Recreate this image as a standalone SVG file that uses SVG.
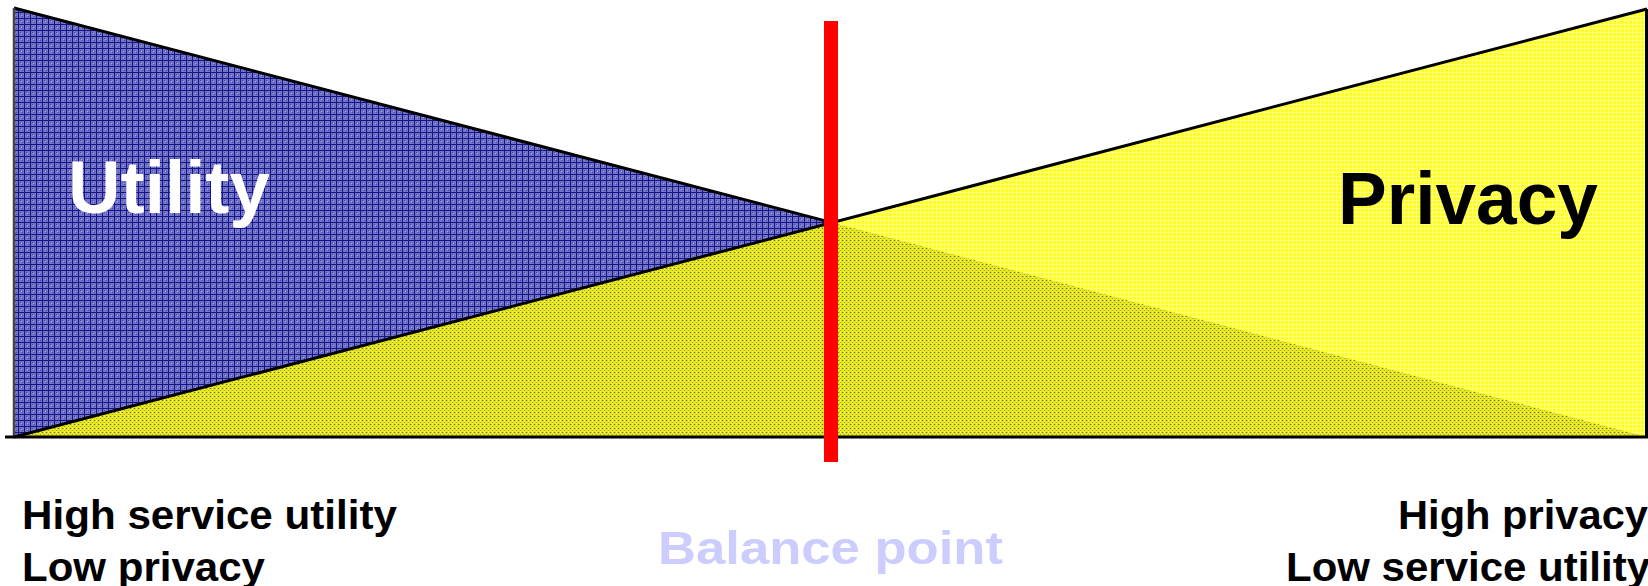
<svg xmlns="http://www.w3.org/2000/svg" width="1648" height="586" viewBox="0 0 1648 586">
  <style>
    .lbl { font-family: "Liberation Sans", Arial, sans-serif; font-weight: bold; }
    .edge { fill: none; stroke: #000; stroke-width: 3; stroke-linecap: butt; }
  </style>
  <defs>
    <pattern id="blueP" width="6" height="6" patternUnits="userSpaceOnUse">
      <rect width="6" height="6" fill="#7474c6"/>
      <rect x="2" y="2" width="1" height="1" fill="#4a4aa6"/>
      <rect x="4" y="4" width="1" height="1" fill="#4a4aa6"/>
      <rect x="3" y="3" width="1" height="1" fill="#a0a0e0"/>
      <rect x="0" y="0" width="6" height="1" fill="#14148a"/>
      <rect x="0" y="0" width="1" height="6" fill="#14148a"/>
    </pattern>
    <pattern id="yellowP" width="4" height="4" patternUnits="userSpaceOnUse">
      <rect width="4" height="4" fill="#ffff1a"/>
      <rect x="0" y="0" width="4" height="1" fill="#ffff90"/>
      <rect x="0" y="0" width="1" height="4" fill="#ffff90"/>
    </pattern>
    <pattern id="overlapP" width="4" height="4" patternUnits="userSpaceOnUse">
      <rect width="4" height="4" fill="#e6e610"/>
      <rect x="0" y="0" width="4" height="1" fill="#caca3a"/>
      <rect x="0" y="0" width="1" height="4" fill="#f4f450"/>
      <rect x="2" y="0" width="1" height="1" fill="#707058"/>
      <rect x="0" y="2" width="1" height="1" fill="#9a9a60"/>
    </pattern>
  </defs>

  <rect width="1648" height="586" fill="#ffffff"/>

  <g id="utility-area">
    <polygon points="14,8 1647,437 14,437" fill="url(#blueP)"/>
  </g>
  <g id="privacy-area">
    <polygon points="14,437 1647,9 1647,437" fill="url(#yellowP)"/>
  </g>
  <g id="overlap-area">
    <polygon points="14,437 832,222.6 1647,437" fill="url(#overlapP)"/>
  </g>

  <g id="connectors">
    <line class="edge" x1="14" y1="8" x2="832" y2="222.6"/>
    <line class="edge" x1="14" y1="437" x2="1647" y2="9"/>
    <line x1="14" y1="8" x2="14" y2="437" stroke="#444" stroke-width="2.5"/>
    <line class="edge" x1="1646.5" y1="9" x2="1646.5" y2="437"/>
    <line class="edge" x1="5" y1="437" x2="1648" y2="437"/>
  </g>

  <g id="balance-bar">
    <rect x="824" y="21" width="14" height="441" fill="#ff0000"/>
  </g>

  <g id="label-utility">
    <text class="lbl" x="68" y="213" font-size="74" fill="#ffffff" textLength="202" lengthAdjust="spacingAndGlyphs">Utility</text>
  </g>
  <g id="label-privacy">
    <text class="lbl" x="1338" y="224" font-size="74" fill="#000000" textLength="260" lengthAdjust="spacingAndGlyphs">Privacy</text>
  </g>
  <g id="label-left">
    <text class="lbl" x="22" y="529" font-size="41" fill="#000000" textLength="375" lengthAdjust="spacingAndGlyphs">High service utility</text>
    <text class="lbl" x="22" y="581" font-size="41" fill="#000000" textLength="243" lengthAdjust="spacingAndGlyphs">Low privacy</text>
  </g>
  <g id="label-balance">
    <text class="lbl" x="658" y="564" font-size="47" fill="#ccccff" textLength="345" lengthAdjust="spacingAndGlyphs">Balance point</text>
  </g>
  <g id="label-right">
    <text class="lbl" x="1398" y="529" font-size="41" fill="#000000" textLength="250" lengthAdjust="spacingAndGlyphs">High privacy</text>
    <text class="lbl" x="1286" y="581" font-size="41" fill="#000000" textLength="364" lengthAdjust="spacingAndGlyphs">Low service utility</text>
  </g>
</svg>
